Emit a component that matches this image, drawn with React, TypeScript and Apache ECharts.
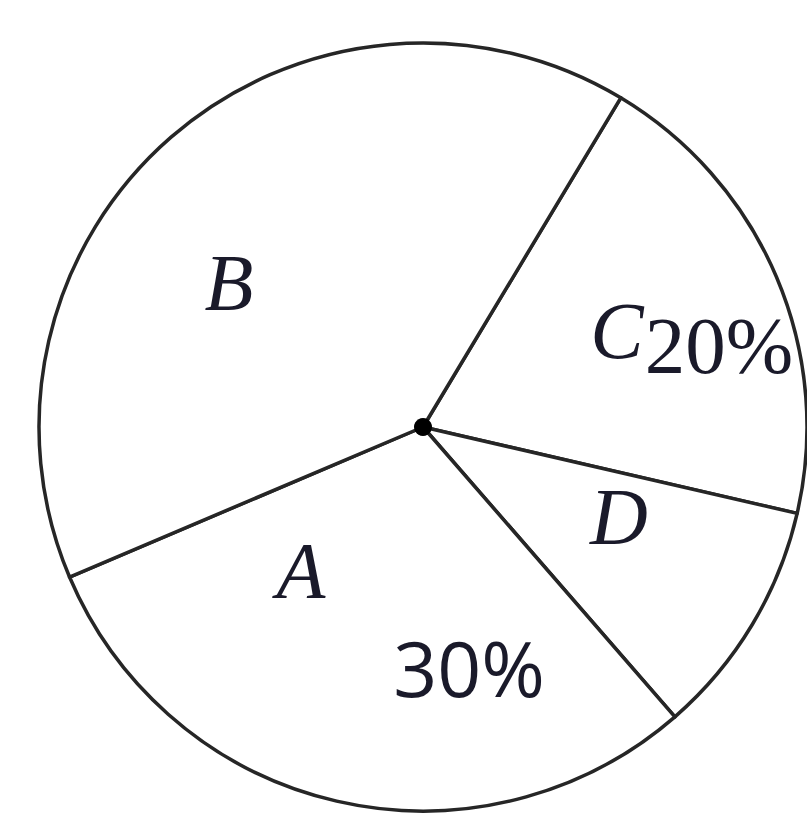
import React, { useEffect, useRef } from "react";
import * as echarts from "echarts";

// Sector shares (percent), listed clockwise starting at the B/C boundary
const categories = ["C", "D", "A", "B"];
const shares = [20, 10, 30, 40];

// Printed labels
const percentC = "20%";
const percentA = "30%";

const CX = 423;
const CY = 427;
const R = 384;
const INK = "#262626";

export default function App() {
  const ref = useRef<HTMLDivElement>(null);

  useEffect(() => {
    if (!ref.current) return;
    const chart = echarts.init(ref.current, null, { renderer: "svg" });

    const label = (x: number, y: number, text: string, font: string) => ({
      type: "text",
      x,
      y,
      z: 10,
      style: {
        text,
        font,
        fill: "#1a1a2a",
        textAlign: "center",
        textVerticalAlign: "middle",
      },
    });

    const italic = "italic 80px 'Liberation Serif'";

    chart.setOption({
      animation: false,
      backgroundColor: "#ffffff",
      series: [
        {
          type: "pie",
          center: [CX, CY],
          radius: [0, R],
          startAngle: 59,
          clockwise: true,
          silent: true,
          label: { show: false },
          labelLine: { show: false },
          emphasis: { disabled: true },
          itemStyle: {
            color: "#ffffff",
            borderColor: INK,
            borderWidth: 3.5,
          },
          data: categories.map((name, i) => ({ name, value: shares[i] })),
        },
      ],
      graphic: [
        {
          type: "circle",
          shape: { cx: CX, cy: CY, r: 9 },
          style: { fill: "#000000" },
          z: 10,
        },
        label(229, 283, "B", italic),
        label(617, 331, "C", italic),
        label(719, 346, percentC, "81px 'Liberation Serif'"),
        label(619, 517, "D", italic),
        label(301, 571, "A", italic),
        label(469, 667, percentA, "77px 'Open Sans'"),
      ],
    });

    return () => chart.dispose();
  }, []);

  return (
    <div
      ref={ref}
      style={{ position: "fixed", left: 0, top: 0, width: 807, height: 814 }}
    />
  );
}
